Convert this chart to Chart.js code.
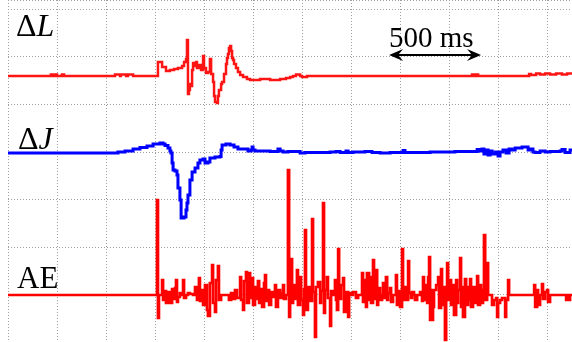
<!DOCTYPE html>
<html>
<head>
<meta charset="utf-8">
<script src="https://cdn.jsdelivr.net/npm/chart.js@4.4.1/dist/chart.umd.min.js"></script>
<style>
  html, body { margin: 0; padding: 0; background: #fff; }
  #wrap { width: 572px; height: 342px; }
</style>
</head>
<body>
<div id="wrap"><canvas id="chart" width="572" height="342"></canvas></div>
<script>
// time in ms (0 = first grid line, 250 ms per division), amplitudes in a.u. (47.5 per division)
const dLTime = [
  -181, 33, 38, 48, 59, 69, 94, 105, 365, 390,
  395, 421, 431, 457, 579, 584, 605, 625, 645, 666,
  686, 707, 717, 727, 732, 737, 742, 747, 753, 758,
  763, 773, 778, 783, 793, 804, 814, 819, 829, 839,
  849, 855, 865, 870, 875, 885, 890, 895, 906, 911,
  921, 931, 936, 941, 946, 952, 957, 962, 967, 972,
  982, 992, 1003, 1018, 1038, 1054, 1105, 1156, 1207, 1237,
  1258, 1273, 1288, 1309, 1319, 1344, 2176, 2186, 2196, 2207,
  2217, 2472, 2477, 2487, 2513, 2533, 2559, 2584, 2615, 2645,
  2671, 2696
];
const dLValue = [
  0, 0, 1.5, 0, 1.5, 0, 1.5, 0, 1.5, 0,
  1.5, 0, 1.5, 0, 0, 14, 9, 5, 6, 7,
  8, 10, 14, 17, 36, -18, -14, -8, -10, 6,
  13, 10, 14, 8, 11, 6, 20, 8, 3, 4,
  17, 2, -6, -20, -26, -27, -20, -14, -8, -6,
  2, 12, 18, 22, 28, 30, 25, 18, 16, 12,
  8, 4, 1, -1, -3, -4, -3, -4, -3, -2,
  -1, 0, 1.5, 0, -1, 0, 0, 1.5, 0, 1.5,
  0, 0, 2, 1, 2.5, 1.5, 2.5, 1.5, 2.5, 1.5,
  2.5, 2
];

const dJTime = [
  -181, 375, 380, 416, 457, 492, 528, 559, 594, 610,
  620, 635, 645, 650, 656, 661, 671, 681, 686, 696,
  702, 717, 727, 732, 737, 747, 758, 773, 788, 798,
  814, 824, 839, 849, 875, 900, 906, 911, 931, 952,
  972, 992, 1018, 1043, 1059, 1064, 1069, 1079, 1115, 1156,
  1196, 1207, 1222, 1247, 1283, 1309, 1334, 1411, 1462, 1492,
  1513, 1543, 1554, 1579, 1640, 1676, 1717, 1768, 1834, 1844,
  1921, 1972, 2048, 2099, 2176, 2212, 2227, 2237, 2247, 2258,
  2268, 2278, 2288, 2304, 2319, 2329, 2344, 2360, 2375, 2390,
  2406, 2426, 2441, 2457, 2472, 2482, 2497, 2508, 2533, 2559,
  2584, 2610, 2635, 2645, 2661, 2686, 2696
];
const dJValue = [
  0, 0, 1, 2, 4, 5.5, 7, 9, 10, 9,
  7.5, 5, 2, 0, -10, -17, -18, -22, -35, -47,
  -65, -64, -57, -50, -42, -27, -19, -15, -10, -7,
  -6, -10, -9, -5, -4, -3.5, 3, 8, 9, 8,
  6, 4, 4, 2, 3, 6, 3, 2, 2, 1.5,
  4, 2, 1, 1.5, 1.5, 0, 0.5, 0.5, 1, 1.5,
  0.5, 2, 0.5, 1, 1.5, 0.5, 0, 0.5, 2.5, 0.5,
  0.5, 1, 1, 1.5, 1.5, 3.5, 2, 4, -1, 3,
  -2, 2, -1, 1, -3, 1, 3, 0, 4, 3,
  5, 5, 6, 6, 3, 4, 1, 0.5, 2, 1,
  1.5, 1.5, 2, 3.5, 0.5, 3, 2
];

const aeTime = [
  -181, 574, 579, 584, 589, 605, 610, 620, 625, 635,
  645, 656, 666, 671, 676, 681, 686, 696, 707, 712,
  717, 727, 737, 747, 763, 773, 783, 793, 798, 809,
  814, 824, 834, 839, 849, 860, 865, 875, 880, 890,
  895, 906, 936, 946, 957, 967, 977, 987, 1003, 1008,
  1018, 1023, 1033, 1038, 1048, 1054, 1064, 1069, 1079, 1089,
  1094, 1100, 1110, 1115, 1125, 1130, 1135, 1145, 1151, 1161,
  1171, 1181, 1186, 1196, 1207, 1217, 1222, 1227, 1237, 1247,
  1253, 1258, 1268, 1273, 1283, 1293, 1298, 1309, 1314, 1324,
  1329, 1334, 1339, 1349, 1360, 1370, 1375, 1385, 1390, 1400,
  1411, 1416, 1426, 1431, 1436, 1446, 1451, 1462, 1467, 1477,
  1487, 1492, 1497, 1503, 1508, 1518, 1528, 1533, 1543, 1554,
  1559, 1569, 1579, 1594, 1605, 1625, 1630, 1640, 1645, 1650,
  1661, 1666, 1671, 1681, 1686, 1696, 1702, 1707, 1717, 1727,
  1732, 1737, 1747, 1753, 1758, 1768, 1773, 1783, 1798, 1803,
  1814, 1819, 1829, 1834, 1844, 1849, 1860, 1865, 1875, 1880,
  1890, 1895, 1906, 1921, 1931, 1936, 1941, 1951, 1957, 1962,
  1967, 1972, 1977, 1982, 1987, 1992, 2003, 2013, 2018, 2028,
  2033, 2038, 2048, 2054, 2059, 2064, 2074, 2079, 2089, 2094,
  2105, 2110, 2115, 2125, 2130, 2135, 2140, 2150, 2156, 2166,
  2171, 2176, 2181, 2191, 2201, 2212, 2217, 2227, 2232, 2242,
  2247, 2253, 2263, 2268, 2278, 2288, 2298, 2309, 2314, 2319,
  2329, 2339, 2355, 2360, 2370, 2375, 2390, 2497, 2503, 2508,
  2518, 2523, 2533, 2543, 2548, 2559, 2569, 2574, 2584, 2661,
  2666, 2671, 2681, 2686, 2696
];
const aeValue = [
  0, 0, 95, -23, 0, 15, -5, 4, -8, 3,
  -8, 6, -4, 7, 15, -7, -2, 2, 0, 15,
  -3, 0, 2, 1, 0, 8, -5, 17, -6, 5,
  -10, 10, -15, -21, 12, 30, -8, -17, 15, 29,
  -5, 0, 0, -5, 2, -4, 5, -3, 18, -5,
  -15, 14, 23, -8, 22, -3, 17, -10, 8, -4,
  14, -8, 6, -12, 12, 20, -6, 5, -10, 3,
  -2, 10, -12, 5, -3, 2, 10, -4, 0, 125,
  -22, 36, -8, 10, -4, 25, -10, 18, -5, -20,
  6, 65, -15, 8, -6, 76, 3, -42, 8, 13,
  -8, 4, 92, -18, 5, 18, -3, -31, 4, 0,
  15, -5, -15, 46, -4, 10, 17, -17, 3, -22,
  2, 0, 3, -3, 0, 22, -7, 15, -12, 22,
  -5, 18, -8, 35, -4, 25, -10, 7, -5, 0,
  12, -3, 18, -5, 2, 7, -7, 0, 20, -10,
  4, -12, 46, -5, 8, -5, 34, 2, -3, 3,
  0, -5, 0, 3, -6, 18, -5, 10, -8, 18,
  38, -25, 5, -25, -12, 5, 10, 18, -13, 26,
  -10, 8, -45, 5, 32, -5, 15, -10, 10, -20,
  15, -8, 5, 37, -12, 8, -22, 16, -10, 8,
  -5, 16, -12, 8, -8, 19, -10, 10, -8, 5,
  60, -5, 32, 0, 0, -10, -5, -3, -22, -8,
  -5, -3, -22, -5, 15, 0, 0, 0, 10, -12,
  5, -10, 0, 11, -4, 3, 5, -7, 0, 0,
  -5, 0, -5, 0, 0
];

// baseline of each trace on the shared vertical axis
const dLBase = 222;
const dJBase = 145;
const aeBase = 3;

const barStart = 1763;
const barEnd = 2232;

function toPoints(times, values, base) {
  return times.map((t, i) => ({ x: t, y: values[i] + base }));
}

const annotations = {
  id: 'annotations',
  afterDatasetsDraw(chart) {
    const ctx = chart.ctx;
    const x = chart.scales.x;
    ctx.save();
    ctx.fillStyle = '#000';
    ctx.strokeStyle = '#000';
    ctx.textBaseline = 'alphabetic';

    const upright = '32px "Liberation Serif"';
    const italic = 'italic 32px "Liberation Serif"';

    ctx.font = upright;
    ctx.fillText('Δ', 16, 36);
    let w = ctx.measureText('Δ').width;
    ctx.font = italic;
    ctx.fillText('L', 16 + w, 36);

    ctx.font = upright;
    ctx.fillText('Δ', 18, 149);
    w = ctx.measureText('Δ').width;
    ctx.font = italic;
    ctx.fillText('J', 18 + w, 149);

    ctx.font = '31px "Liberation Serif"';
    ctx.fillText('AE', 17, 288);

    ctx.font = '29px "Liberation Serif"';
    ctx.fillText('500 ms', 389, 47);

    const x1 = x.getPixelForValue(barStart);
    const x2 = x.getPixelForValue(barEnd);
    const y = 55;
    ctx.lineWidth = 2;
    ctx.beginPath();
    ctx.moveTo(x1 + 8, y);
    ctx.lineTo(x2 - 8, y);
    ctx.stroke();
    [[x1, 1], [x2, -1]].forEach(([px, dir]) => {
      ctx.beginPath();
      ctx.moveTo(px, y);
      ctx.lineTo(px + dir * 14, y - 6);
      ctx.lineTo(px + dir * 9, y);
      ctx.lineTo(px + dir * 14, y + 6);
      ctx.closePath();
      ctx.fill();
    });
    ctx.restore();
  }
};

const gridLook = {
  color: '#a0a0a0',
  lineWidth: 1,
  drawTicks: false
};

new Chart(document.getElementById('chart'), {
  type: 'line',
  data: {
    datasets: [
      {
        label: 'ΔL',
        data: toPoints(dLTime, dLValue, dLBase),
        borderColor: 'rgb(255, 20, 20)',
        borderWidth: 2.5
      },
      {
        label: 'ΔJ',
        data: toPoints(dJTime, dJValue, dJBase),
        borderColor: 'rgb(0, 0, 255)',
        borderWidth: 3
      },
      {
        label: 'AE',
        data: toPoints(aeTime, aeValue, aeBase),
        borderColor: 'rgb(255, 0, 0)',
        borderWidth: 2.7
      }
    ]
  },
  options: {
    responsive: false,
    animation: false,
    parsing: false,
    layout: { padding: { left: 8, right: 0, top: 0, bottom: 0 } },
    elements: {
      point: { radius: 0 },
      line: { stepped: true, tension: 0, fill: false }
    },
    plugins: {
      legend: { display: false },
      tooltip: { enabled: false }
    },
    scales: {
      x: {
        type: 'linear',
        bounds: 'data',
        min: -181,
        max: 2696,
        ticks: { display: false, stepSize: 250, includeBounds: false, maxTicksLimit: 30 },
        grid: gridLook,
        border: { display: false, dash: [1, 2] }
      },
      y: {
        type: 'linear',
        bounds: 'data',
        min: -44,
        max: 298,
        ticks: { display: false, stepSize: 47.5, includeBounds: false, maxTicksLimit: 30 },
        grid: gridLook,
        border: { display: false, dash: [1, 2] }
      }
    }
  },
  plugins: [annotations]
});
</script>
</body>
</html>
